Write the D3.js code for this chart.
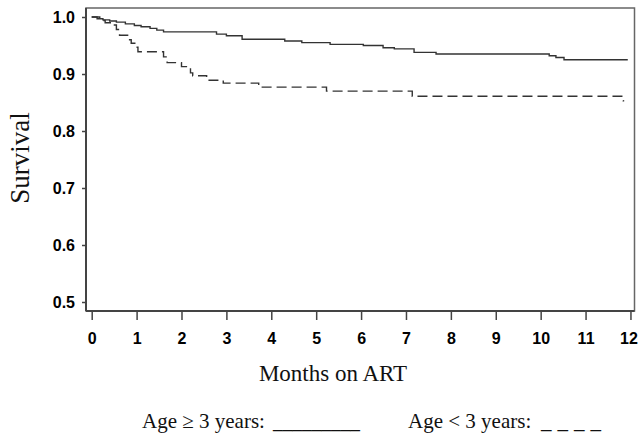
<!DOCTYPE html>
<html>
<head>
<meta charset="utf-8">
<script src="https://cdn.jsdelivr.net/npm/d3@7"></script>
<style>
  html, body { margin: 0; padding: 0; background: #fff; }
  svg { display: block; }
  .tick text { font-family: "Liberation Sans", Arial, sans-serif; font-weight: bold; font-size: 16px; fill: #000; }
  .title { font-family: "Liberation Serif", "Times New Roman", serif; fill: #111; }
</style>
</head>
<body>
<svg id="chart" width="638" height="436"></svg>
<script>
// Kaplan-Meier steps: months on ART and survival after each step
const olderTimes = [0, 0.12, 0.25, 0.40, 0.55, 0.75, 0.95, 1.10, 1.30, 1.45, 1.60, 2.78, 3.00, 3.35, 4.30, 4.68, 5.31, 6.05, 6.49, 6.74, 7.18, 7.67, 10.19, 10.34, 10.52, 11.94];
const olderSurv  = [1.0, 0.997, 0.995, 0.993, 0.991, 0.988, 0.985, 0.983, 0.980, 0.977, 0.974, 0.970, 0.967, 0.961, 0.958, 0.955, 0.952, 0.950, 0.946, 0.944, 0.938, 0.935, 0.932, 0.929, 0.925, 0.925];

const youngerTimes = [0, 0.18, 0.30, 0.48, 0.55, 0.62, 0.80, 0.88, 0.98, 1.03, 1.60, 1.68, 2.00, 2.20, 2.25, 2.56, 2.93, 3.72, 5.23, 7.14, 11.84, 11.86];
const youngerSurv  = [1.0, 0.994, 0.990, 0.986, 0.978, 0.968, 0.960, 0.954, 0.947, 0.939, 0.930, 0.920, 0.913, 0.902, 0.897, 0.889, 0.884, 0.877, 0.870, 0.861, 0.853, 0.853];

const monthTicks = [0, 1, 2, 3, 4, 5, 6, 7, 8, 9, 10, 11, 12];
const survTicks = [0.5, 0.6, 0.7, 0.8, 0.9, 1.0];

const svg = d3.select("#chart");
const plot = { left: 86, right: 634.5, top: 8, bottom: 311 };

const x = d3.scaleLinear().domain([-0.127, 12.09]).range([plot.left, plot.right]);
const y = d3.scaleLinear().domain([0.4842, 1.0158]).range([plot.bottom, plot.top]);

// frame
svg.append("rect")
  .attr("x", plot.left).attr("y", plot.top)
  .attr("width", plot.right - plot.left).attr("height", plot.bottom - plot.top)
  .attr("fill", "none").attr("stroke", "#666").attr("stroke-width", 1.5);

const yAxis = svg.append("g")
  .attr("transform", `translate(${plot.left},0)`)
  .call(d3.axisLeft(y).tickValues(survTicks).tickFormat(d3.format(".1f")).tickSize(4).tickPadding(7));

const xAxis = svg.append("g")
  .attr("transform", `translate(0,${plot.bottom})`)
  .call(d3.axisBottom(x).tickValues(monthTicks).tickFormat(d3.format("d")).tickSize(9).tickPadding(13));

[yAxis, xAxis].forEach(g => {
  g.select(".domain").remove();
  g.selectAll(".tick line").attr("stroke", "#444").attr("stroke-width", 1.5);
});

// last month label sits a touch left so it stays inside the page
xAxis.selectAll(".tick text").filter(d => d === 12).attr("dx", -2);

// axis lines drawn a bit darker than the frame
svg.append("line")
  .attr("x1", plot.left).attr("x2", plot.left)
  .attr("y1", plot.top).attr("y2", plot.bottom)
  .attr("stroke", "#444").attr("stroke-width", 2);
svg.append("line")
  .attr("x1", plot.left).attr("x2", plot.right)
  .attr("y1", plot.bottom).attr("y2", plot.bottom)
  .attr("stroke", "#444").attr("stroke-width", 2);

const step = d3.line()
  .x(d => x(d[0]))
  .y(d => y(d[1]))
  .curve(d3.curveStepAfter);

svg.append("path")
  .datum(d3.zip(olderTimes, olderSurv))
  .attr("d", step)
  .attr("fill", "none")
  .attr("stroke", "#333")
  .attr("stroke-width", 1.4);

svg.append("path")
  .datum(d3.zip(youngerTimes, youngerSurv))
  .attr("d", step)
  .attr("fill", "none")
  .attr("stroke", "#333")
  .attr("stroke-width", 1.4)
  .attr("stroke-dasharray", "10,5");

// titles
svg.append("text")
  .attr("class", "title")
  .style("font-size", "27px")
  .attr("transform", "translate(28.5,158) rotate(-90)")
  .attr("text-anchor", "middle")
  .text("Survival");

svg.append("text")
  .attr("class", "title")
  .style("font-size", "23px")
  .attr("x", 333).attr("y", 381)
  .attr("text-anchor", "middle")
  .text("Months on ART");

// legend
const legend = svg.append("g").attr("class", "title").style("font-size", "21px");
legend.append("text")
  .attr("x", 142).attr("y", 428)
  .text("Age ≥ 3 years:");
legend.append("text")
  .attr("x", 273).attr("y", 428)
  .attr("textLength", 87).attr("lengthAdjust", "spacingAndGlyphs")
  .text("_________");
legend.append("text")
  .attr("x", 408).attr("y", 428)
  .text("Age < 3 years:");
legend.append("text")
  .attr("x", 541).attr("y", 428)
  .attr("textLength", 60).attr("lengthAdjust", "spacing")
  .text("_ _ _ _");
</script>
</body>
</html>
